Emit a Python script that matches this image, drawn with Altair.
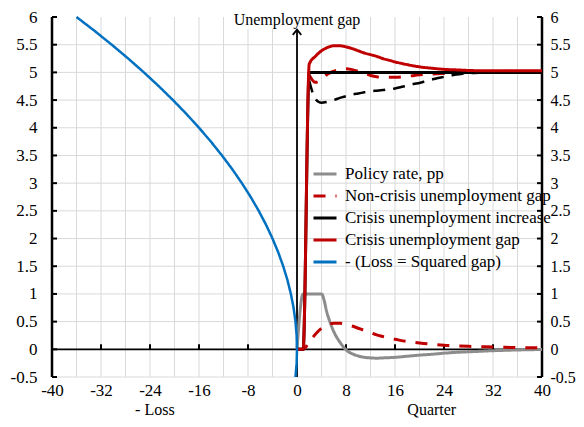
import altair as alt
import pandas as pd

FONT = "Liberation Serif"
FS = 17

# ---------------- data ----------------
series_names = [
    "1|Policy rate, pp",
    "2|Non-crisis unemployment gap",
    "3|Crisis unemployment increase",
    "4|Crisis unemployment gap",
    "5|- (Loss = Squared gap)",
]
series_colors = ["#8c8c8c", "#c00000", "#000000", "#c00000", "#0070c0"]
series_dashes = [[1, 0], [12, 10], [1, 0], [1, 0], [1, 0]]

policy_q = [0, 1, 2, 3, 4, 5, 6, 7, 8, 9, 10, 11, 12, 13, 14, 16, 18, 20, 22, 24, 26, 28, 30, 32, 34, 36, 38, 40]
policy_v = [0, 1, 1, 1, 1, 0.62, 0.32, 0.13, -0.01, -0.08, -0.12, -0.145, -0.155, -0.16, -0.155, -0.145,
            -0.125, -0.105, -0.09, -0.07, -0.055, -0.045, -0.035, -0.025, -0.018, -0.012, -0.007, -0.004]

noncrisis_q = [0, 1, 2, 3, 4, 5, 6, 7, 8, 9, 10, 11, 12, 13, 14, 15, 16, 18, 20, 22, 24, 26, 28, 30, 32, 34, 36, 38, 40]
noncrisis_v = [0, 0, 0.13, 0.27, 0.38, 0.44, 0.47, 0.47, 0.45, 0.42, 0.38, 0.34, 0.30, 0.26, 0.23, 0.20, 0.18,
               0.14, 0.115, 0.09, 0.072, 0.062, 0.053, 0.047, 0.041, 0.036, 0.032, 0.028, 0.025]

increase_q = [0, 1, 2, 40]
increase_v = [0, 0, 5, 5]

crisis_q = [0, 1, 2, 3, 4, 5, 6, 7, 8, 9, 10, 11, 12, 13, 14, 15, 16, 18, 20, 22, 24, 26, 28, 30, 32, 36, 40]
crisis_v = [0, 0, 5.15, 5.29, 5.39, 5.45, 5.48, 5.48, 5.46, 5.43, 5.39, 5.35, 5.32, 5.29, 5.25, 5.22, 5.19,
            5.14, 5.10, 5.075, 5.055, 5.045, 5.035, 5.03, 5.03, 5.03, 5.03]

loss_gap = [-0.5, -0.25, 0, 0.25, 0.5, 0.75, 1, 1.25, 1.5, 1.75, 2, 2.25, 2.5, 2.75, 3, 3.25, 3.5, 3.75,
            4, 4.25, 4.5, 4.75, 5, 5.25, 5.5, 5.75, 6]
loss_neg = [-0.25, -0.06, 0, -0.06, -0.25, -0.56, -1, -1.56, -2.25, -3.06, -4, -5.06, -6.25, -7.56, -9,
            -10.56, -12.25, -14.06, -16, -18.06, -20.25, -22.56, -25, -27.56, -30.25, -33.06, -36]

# unlabelled dashed lines near 5
reddash_q = [2, 3, 4, 5, 6, 7, 8, 9, 10, 11, 12, 13, 14, 16, 18, 20, 22, 24, 26, 28, 32, 36, 40]
reddash_v = [4.95, 4.82, 4.87, 4.97, 5.02, 5.05, 5.065, 5.05, 5.02, 4.98, 4.945, 4.92, 4.91, 4.91, 4.93,
             4.955, 4.97, 4.98, 4.99, 5.0, 5.0, 5.0, 5.0]
blackdash_q = [2, 3, 4, 5, 6, 7, 8, 9, 10, 11, 12, 13, 14, 15, 16, 17, 18, 19, 20, 21, 22, 23, 24, 25, 26,
               27, 28, 30, 32, 36, 40]
blackdash_v = [4.85, 4.52, 4.45, 4.47, 4.50, 4.54, 4.57, 4.60, 4.62, 4.64, 4.66, 4.67, 4.68, 4.695, 4.71,
               4.735, 4.76, 4.79, 4.81, 4.84, 4.87, 4.90, 4.92, 4.94, 4.96, 4.975, 4.985, 4.995, 5.0, 5.0, 5.0]

x_ticks = [-40, -32, -24, -16, -8, 0, 8, 16, 24, 32, 40]
x_grid = [-36, -32, -28, -24, -20, -16, -12, -8, -4, 4, 8, 12, 16, 20, 24, 28, 32, 36]
y_ticks = [-0.5, 0, 0.5, 1, 1.5, 2, 2.5, 3, 3.5, 4, 4.5, 5, 5.5, 6]
y_grid = [-0.5, 0.5, 1, 1.5, 2, 2.5, 3, 3.5, 4, 4.5, 5, 5.5]
zero_ticks = [-32, -24, -16, -8, 8, 16, 24, 32]
side_axes = [-40, 40]
arrow_top = 5.77

annot_text = ["- Loss", "Quarter"]
annot_x = [-23.2, 22]

# ---------------- frames ----------------
rows = []
for name, qs, vs in [(series_names[0], policy_q, policy_v),
                     (series_names[1], noncrisis_q, noncrisis_v),
                     (series_names[2], increase_q, increase_v),
                     (series_names[3], crisis_q, crisis_v)]:
    for q, v in zip(qs, vs):
        rows.append({"x": q, "y": v, "s": name})
main_df = pd.DataFrame(rows)
loss_df = pd.DataFrame({"x": loss_neg, "y": loss_gap, "s": series_names[4],
                        "o": list(range(len(loss_gap)))})
reddash_df = pd.DataFrame({"x": reddash_q, "y": reddash_v})
blackdash_df = pd.DataFrame({"x": blackdash_q, "y": blackdash_v})

X = alt.Scale(domain=[-40, 40], nice=False, zero=False)
Y = alt.Scale(domain=[-0.5, 6], nice=False, zero=False)


def xd(v):
    return alt.XDatum(v, scale=X, axis=None)


def yd(v):
    return alt.YDatum(v, scale=Y, axis=None)


legend = alt.Legend(
    title=None, orient="none", legendX=260, legendY=144, padding=0,
    symbolType="stroke", symbolSize=529, symbolStrokeWidth=3,
    labelFont=FONT, labelFontSize=FS, labelColor="black", labelOffset=7,
    labelLimit=0, rowPadding=1, labelExpr="split(datum.label, '|')[1]",
)
color_enc = alt.Color("s:N", scale=alt.Scale(domain=series_names, range=series_colors), legend=legend)
dash_enc = alt.StrokeDash("s:N", scale=alt.Scale(domain=series_names, range=series_dashes), legend=legend)

ax_common = dict(grid=False, domain=False, ticks=False, tickSize=0, labelFont=FONT,
                 labelColor="black", title=None, labelExpr="'' + datum.value", labelFlush=False,
                 labelOverlap=False)

# gridlines (carry the label-only axes)
vgrid = alt.Chart(pd.DataFrame({"g": x_grid})).mark_rule(color="#d9d9d9", strokeWidth=1).encode(
    x=alt.X("g:Q", scale=X, axis=alt.Axis(values=x_ticks, labelPadding=5, labelFontSize=FS, **ax_common)))
hgrid = alt.Chart(pd.DataFrame({"g": y_grid})).mark_rule(color="#d9d9d9", strokeWidth=1).encode(
    y=alt.Y("g:Q", scale=Y, axis=alt.Axis(orient="left", values=y_ticks, labelPadding=15,
                                          labelFontSize=FS, **ax_common)))

# axes lines & ticks
sides = alt.Chart(pd.DataFrame({"a": side_axes})).mark_rule(color="black", strokeWidth=2.5).encode(
    x=alt.X("a:Q", scale=X, axis=None), y=yd(-0.5), y2=alt.datum(6))
left_ticks = alt.Chart(pd.DataFrame({"t": y_ticks})).mark_rule(color="black", strokeWidth=2, xOffset=5).encode(
    x=xd(-40), x2=alt.datum(-40), y=alt.Y("t:Q", scale=Y, axis=None))
right_ticks = alt.Chart(pd.DataFrame({"t": y_ticks})).mark_rule(color="black", strokeWidth=2, xOffset=-5).encode(
    x=xd(40), x2=alt.datum(40),
    y=alt.Y("t:Q", scale=Y, axis=alt.Axis(orient="right", values=y_ticks, labelPadding=8,
                                          labelFontSize=16, **ax_common)))
zero_line = alt.Chart(pd.DataFrame({"z": [0]})).mark_rule(color="black", strokeWidth=1.8).encode(
    y=alt.Y("z:Q", scale=Y, axis=None))
zero_tk = alt.Chart(pd.DataFrame({"t": zero_ticks})).mark_rule(color="black", strokeWidth=2, yOffset=-5).encode(
    x=alt.X("t:Q", scale=X, axis=None), y=yd(0), y2=alt.datum(0))
vaxis = alt.Chart(pd.DataFrame({"z": [0]})).mark_rule(color="black", strokeWidth=1.8).encode(
    x=alt.X("z:Q", scale=X, axis=None), y=yd(-0.5), y2=alt.datum(arrow_top))
arrow = alt.Chart(pd.DataFrame({"z": [0]})).mark_point(
    shape="M -1 1.2 L 0 0 L 1 1.2", filled=False, color="black", strokeWidth=1.8, size=72, opacity=1).encode(
    x=alt.X("z:Q", scale=X, axis=None), y=yd(arrow_top))

# dashed lines without legend entries
red5 = alt.Chart(reddash_df).mark_line(color="#c00000", strokeWidth=3, strokeDash=[12, 10],
                                       interpolate="monotone").encode(
    x=alt.X("x:Q", scale=X, axis=None), y=alt.Y("y:Q", scale=Y, axis=None))
black5 = alt.Chart(blackdash_df).mark_line(color="black", strokeWidth=2.5, strokeDash=[12, 8],
                                           interpolate="monotone").encode(
    x=alt.X("x:Q", scale=X, axis=None), y=alt.Y("y:Q", scale=Y, axis=None))

main = alt.Chart(main_df).mark_line(strokeWidth=3, interpolate="monotone").encode(
    x=alt.X("x:Q", scale=X, axis=None), y=alt.Y("y:Q", scale=Y, axis=None),
    color=color_enc, strokeDash=dash_enc)
loss = alt.Chart(loss_df).mark_line(strokeWidth=2.5).encode(
    x=alt.X("x:Q", scale=X, axis=None), y=alt.Y("y:Q", scale=Y, axis=None),
    order="o:Q", color=color_enc, strokeDash=dash_enc)

# annotations
title_bg = alt.Chart(pd.DataFrame({"z": [0]})).mark_rect(color="white").encode(
    x=xd(-10.2), x2=alt.datum(10.2), y=alt.value(-7), y2=alt.value(12))
title_txt = alt.Chart(pd.DataFrame({"t": ["Unemployment gap"]})).mark_text(
    font=FONT, fontSize=16, color="black", align="center", baseline="alphabetic").encode(
    x=xd(0), y=alt.value(7.6), text="t:N")
bottom_txt = alt.Chart(pd.DataFrame({"t": annot_text, "x": annot_x})).mark_text(
    font=FONT, fontSize=16, color="black", align="center", baseline="alphabetic").encode(
    x=alt.X("x:Q", scale=X, axis=None), y=alt.value(398), text="t:N")

chart = alt.layer(
    vgrid, hgrid, title_bg, zero_line, vaxis, zero_tk, sides, left_ticks, right_ticks, arrow,
    red5, black5, main, loss, title_txt, bottom_txt,
).resolve_axis(x="independent", y="independent").properties(
    width=490, height=360,
    autosize=alt.AutoSizeParams(type="none"),
    padding={"left": 44, "top": 9, "right": 34, "bottom": 42},
).configure_view(stroke=None)

chart.save("out.html", embed_options={"renderer": "svg", "actions": False})
